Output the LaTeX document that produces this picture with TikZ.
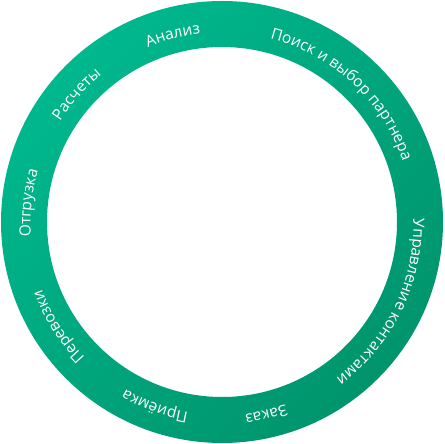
\documentclass[tikz,border=0pt]{standalone}
\usepackage{fontspec}
\setmainfont{Open Sans}
\usetikzlibrary{calc,decorations.text}
\definecolor{ringLight}{RGB}{0,184,142}
\definecolor{ringDark}{RGB}{0,148,108}
\newcommand\ringfont{\fontsize{15.5}{18}\selectfont}

\begin{document}
\begin{tikzpicture}[x=1pt, y=1pt,
  ring/.style={even odd rule, top color=ringLight, bottom color=ringDark,
               shading angle=45},
  lbl/.style={decorate, decoration={text along path, text align=center,
               text color=white}}
]
\useasboundingbox (0,0) rectangle (444,444);
\coordinate (C) at (222,222);
\coordinate (T) at (222,220);
\shade[ring] (C) circle[radius=221] (C) circle[radius=175];
% labels run clockwise, tops outward
\foreach \ang/\txt in {104.6/Анализ, 47.3/Поиск и выбор партнера,
    -26/Управление контактами, -76.9/Заказ, -110.2/Приёмка,
    -147.9/Перевозки, 173.8/Отгрузка, 138.3/Расчеты}
  \path[lbl, decoration={text/.expanded={|\noexpand\ringfont|\txt}}]
    ($(T)+(\ang+70:191.5)$) arc[start angle=\ang+70, end angle=\ang-70, radius=191.5];
\end{tikzpicture}
\end{document}
